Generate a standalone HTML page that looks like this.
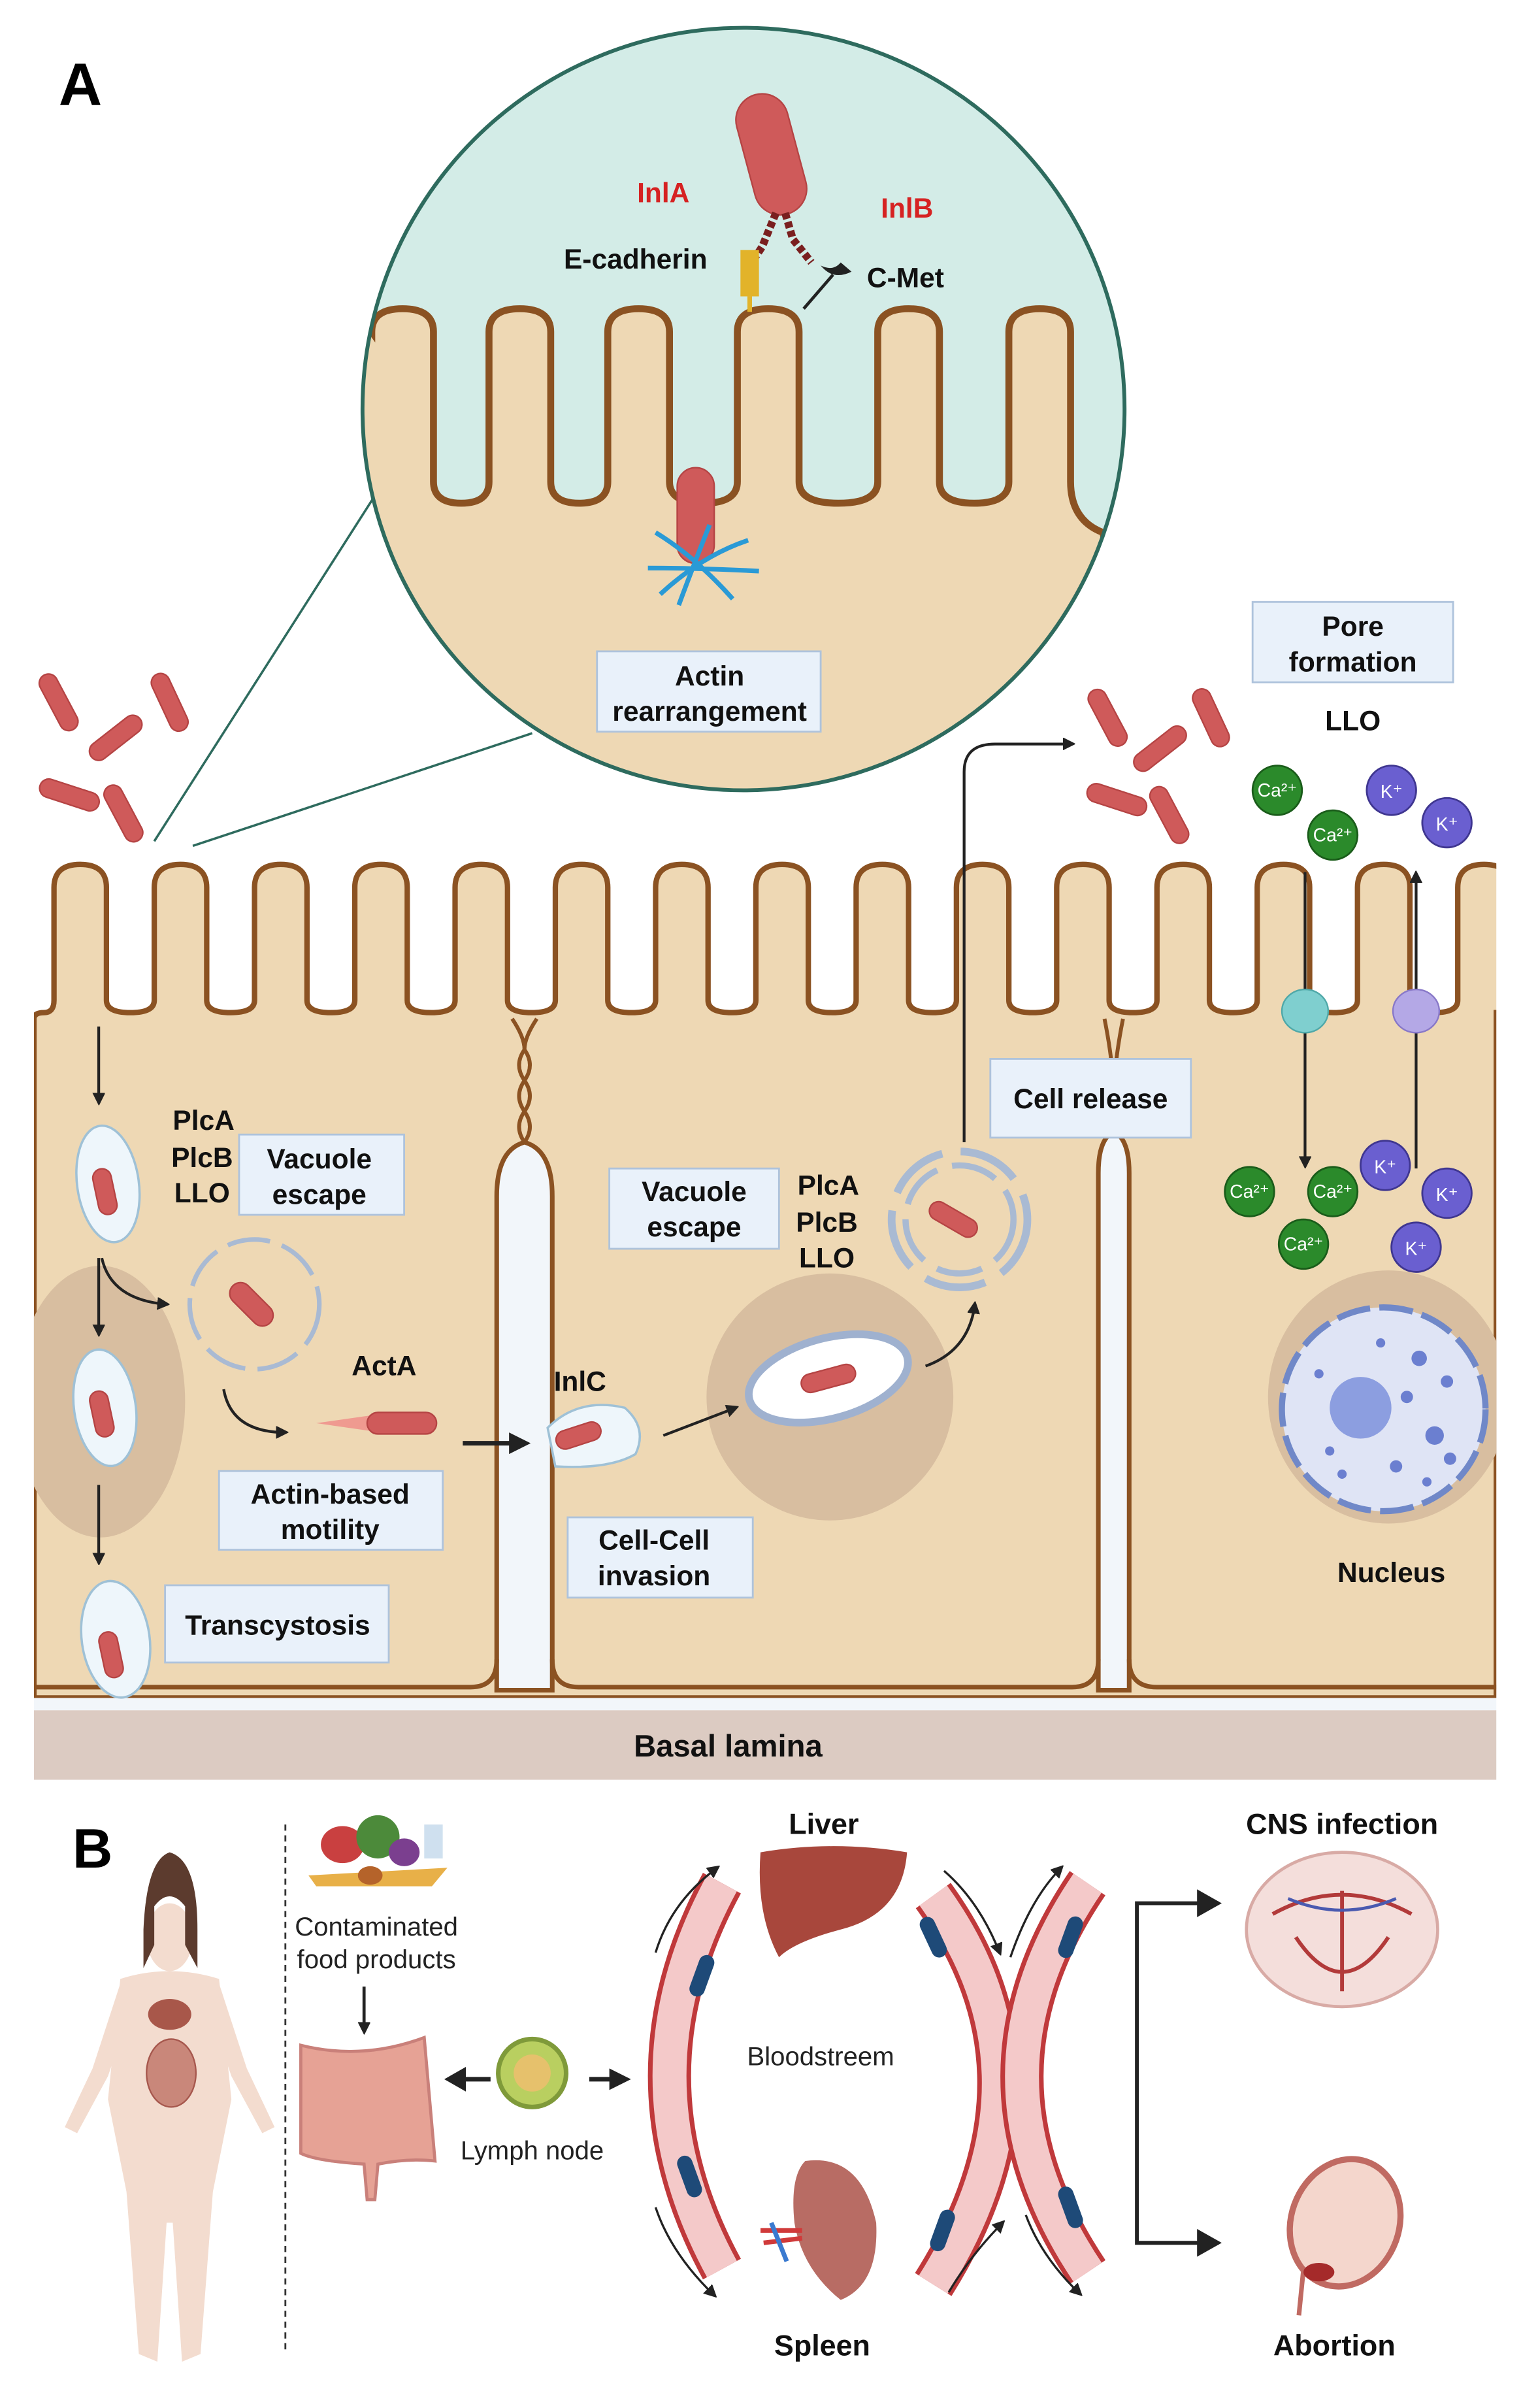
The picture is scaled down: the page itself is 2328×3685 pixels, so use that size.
<!DOCTYPE html>
<html><head><meta charset="utf-8"><style>
html,body{margin:0;padding:0;background:#fff}
svg{display:block}
text{font-family:"Liberation Sans",Arial,sans-serif}
.b{font-weight:bold;font-size:18px;fill:#111}
.lbl{fill:#e9f1fa;stroke:#aec3dc;stroke-width:1.2}
.rod{fill:#cf5a5a;stroke:#b54444;stroke-width:1}
</style></head><body>
<svg width="2328" height="3685" viewBox="0 0 986 1560" preserveAspectRatio="none" xmlns="http://www.w3.org/2000/svg">
<defs>
<marker id="ah" markerWidth="8" markerHeight="8" refX="6" refY="4" orient="auto" markerUnits="userSpaceOnUse"><path d="M0,0 L8,4 L0,8 Z" fill="#222" transform="scale(1.3) translate(-1.5,-1)"/></marker>
<marker id="ahb" markerWidth="14" markerHeight="14" refX="10" refY="7" orient="auto" markerUnits="userSpaceOnUse"><path d="M0,0 L14,7 L0,14 Z" fill="#222"/></marker>
<clipPath id="cc"><circle cx="482" cy="265" r="247"/></clipPath>
<clipPath id="cellclip"><rect x="22" y="540" width="948" height="560"/></clipPath>
</defs>
<rect width="986" height="1560" fill="#fff"/>
<text x="38" y="68" style="font-weight:bold;font-size:39px">A</text>

<line x1="100" y1="545" x2="245" y2="318" stroke="#2e6b5e" stroke-width="1.5"/>
<line x1="125" y1="548" x2="345" y2="475" stroke="#2e6b5e" stroke-width="1.5"/>

<g clip-path="url(#cc)">
<rect x="230" y="15" width="510" height="510" fill="#d3ece7"/>
<path id="czv" fill="#eed8b4" stroke="#8b5222" stroke-width="4.5" d=""/>
</g>
<circle cx="482" cy="265" r="247" fill="none" stroke="#2e6b5e" stroke-width="2.5"/>

<rect x="22" y="1090" width="948" height="18" fill="#f2f6fa"/>
<g clip-path="url(#cellclip)">
<path id="mv" fill="#eed8b4" stroke="#8b5222" stroke-width="3.5" d=""/>
<ellipse cx="65" cy="908" rx="55" ry="88" fill="#d8bea0"/>
<ellipse cx="538" cy="905" rx="80" ry="80" fill="#d8bea0"/>
<ellipse cx="900" cy="905" rx="78" ry="82" fill="#d8bea0"/>
<path d="M322,1095 L322,775 Q322,745 340,740 Q358,745 358,775 L358,1095 Z" fill="#f2f6fa" stroke="#8b5222" stroke-width="3"/>
<path d="M712,1095 L712,760 Q712,738 722,733 Q732,738 732,760 L732,1095 Z" fill="#f2f6fa" stroke="#8b5222" stroke-width="3"/>
<path d="M22,1093 L305,1093 Q322,1093 322,1075 M358,1075 Q358,1093 375,1093 L695,1093 Q712,1093 712,1075 M732,1075 Q732,1093 750,1093 L970,1093" fill="none" stroke="#8b5222" stroke-width="3"/>
<path d="M332,660 Q340,672 340,680 Q333,690 340,700 Q347,710 340,720 Q333,730 340,740 M348,660 Q340,672 340,680 Q347,690 340,700 Q333,710 340,720 Q347,730 340,740" fill="none" stroke="#8b5222" stroke-width="2.5"/>
<path d="M716,660 Q722,690 722,712 M728,660 Q722,690 722,712" fill="none" stroke="#8b5222" stroke-width="2.5"/>
</g>
<rect x="22" y="1108" width="948" height="45" fill="#dccbc2"/>
<text x="472" y="1138" text-anchor="middle" class="b" style="font-size:20px">Basal lamina</text>

<g>
<rect class="rod" x="-20" y="-6" width="40" height="12" rx="6" transform="translate(38,455) rotate(62)"/>
<rect class="rod" x="-20" y="-6" width="40" height="12" rx="6" transform="translate(75,478) rotate(-38)"/>
<rect class="rod" x="-20" y="-6" width="40" height="12" rx="6" transform="translate(110,455) rotate(65)"/>
<rect class="rod" x="-20" y="-6" width="40" height="12" rx="6" transform="translate(45,515) rotate(18)"/>
<rect class="rod" x="-20" y="-6" width="40" height="12" rx="6" transform="translate(80,527) rotate(62)"/>
<rect class="rod" x="-20" y="-6" width="40" height="12" rx="6" transform="translate(718,465) rotate(62)"/>
<rect class="rod" x="-20" y="-6" width="40" height="12" rx="6" transform="translate(752,485) rotate(-38)"/>
<rect class="rod" x="-20" y="-6" width="40" height="12" rx="6" transform="translate(785,465) rotate(65)"/>
<rect class="rod" x="-20" y="-6" width="40" height="12" rx="6" transform="translate(724,518) rotate(18)"/>
<rect class="rod" x="-20" y="-6" width="40" height="12" rx="6" transform="translate(758,528) rotate(62)"/>
</g>

<rect class="rod" x="-17" y="-40" width="34" height="80" rx="17" transform="translate(500,100) rotate(-15)"/>
<path d="M503,138 L494,160 L486,172 M509,138 L514,155 L526,170" fill="none" stroke="#7a1f1f" stroke-width="5" stroke-dasharray="4,2"/>
<rect x="480" y="162" width="12" height="30" fill="#e2b32a"/>
<line x1="486" y1="192" x2="486" y2="202" stroke="#e2b32a" stroke-width="3"/>
<path d="M521,200 L540,178" stroke="#222" stroke-width="2"/>
<path d="M532,172 Q540,182 552,176 L545,170 Q540,176 532,172 Z" fill="#222"/>
<text x="430" y="131" text-anchor="middle" class="b" style="fill:#d62222">InlA</text>
<text x="588" y="141" text-anchor="middle" class="b" style="fill:#d62222">InlB</text>
<text x="412" y="174" text-anchor="middle" class="b">E-cadherin</text>
<text x="587" y="186" text-anchor="middle" class="b">C-Met</text>
<rect class="rod" x="-12" y="-30" width="24" height="62" rx="12" transform="translate(451,333)"/>
<g stroke="#2a9ad6" stroke-width="3" fill="none">
<path d="M425,345 Q450,360 475,388"/><path d="M428,385 Q455,360 485,350"/><path d="M420,368 Q455,368 492,370"/><path d="M440,392 Q450,365 460,340"/>
</g>
<rect class="lbl" x="387" y="422" width="145" height="52"/>
<text x="460" y="444" text-anchor="middle" class="b">Actin</text>
<text x="460" y="467" text-anchor="middle" class="b">rearrangement</text>

<g stroke="#222" stroke-width="1.8" fill="none">
<line x1="64" y1="665" x2="64" y2="714" marker-end="url(#ah)"/>
<line x1="64" y1="815" x2="64" y2="864" marker-end="url(#ah)"/>
<line x1="64" y1="962" x2="64" y2="1012" marker-end="url(#ah)"/>
<path d="M66,815 Q72,842 108,845" marker-end="url(#ah)"/>
<path d="M145,900 Q150,928 185,928" marker-end="url(#ah)"/>
<path d="M430,930 L477,912" marker-end="url(#ah)"/>
<path d="M600,885 Q628,875 632,845" marker-end="url(#ah)"/>
<path d="M625,740 L625,500 Q625,482 645,482 L695,482" marker-end="url(#ah)"/>
<line x1="846" y1="565" x2="846" y2="755" marker-end="url(#ah)"/>
<line x1="918" y1="757" x2="918" y2="566" marker-end="url(#ah)"/>
</g>
<line x1="300" y1="935" x2="340" y2="935" stroke="#222" stroke-width="3" marker-end="url(#ahb)"/>
<g fill="#eef6fb" stroke="#9fc1d6" stroke-width="1.5">
<ellipse cx="70" cy="767" rx="20" ry="38" transform="rotate(-8 70 767)"/>
<ellipse cx="68" cy="912" rx="20" ry="38" transform="rotate(-8 68 912)"/>
<ellipse cx="75" cy="1062" rx="22" ry="38" transform="rotate(-8 75 1062)"/>
<path d="M355,925 Q375,905 405,912 Q420,925 412,942 Q395,952 360,950 Z"/>
</g>
<rect class="rod" x="-6" y="-15" width="12" height="30" rx="6" transform="translate(68,772) rotate(-12)"/>
<rect class="rod" x="-6" y="-15" width="12" height="30" rx="6" transform="translate(66,916) rotate(-12)"/>
<rect class="rod" x="-6" y="-15" width="12" height="30" rx="6" transform="translate(72,1072) rotate(-12)"/>
<rect class="rod" x="-15" y="-6" width="30" height="12" rx="6" transform="translate(375,930) rotate(-18)"/>
<circle cx="165" cy="845" r="42" fill="none" stroke="#a9bad3" stroke-width="3" stroke-dasharray="28,8"/>
<rect class="rod" x="-7" y="-17" width="14" height="34" rx="7" transform="translate(163,845) rotate(-45)"/>
<path d="M205,922 L240,917 L240,927 Z" fill="#f08080" opacity="0.7"/>
<rect class="rod" x="238" y="915" width="45" height="14" rx="7"/>
<text x="132" y="732" text-anchor="middle" class="b">PlcA</text>
<text x="131" y="756" text-anchor="middle" class="b">PlcB</text>
<text x="131" y="779" text-anchor="middle" class="b">LLO</text>
<rect class="lbl" x="155" y="735" width="107" height="52"/>
<text x="207" y="757" text-anchor="middle" class="b">Vacuole</text>
<text x="207" y="780" text-anchor="middle" class="b">escape</text>
<text x="249" y="891" text-anchor="middle" class="b">ActA</text>
<rect class="lbl" x="142" y="953" width="145" height="51"/>
<text x="214" y="974" text-anchor="middle" class="b">Actin-based</text>
<text x="214" y="997" text-anchor="middle" class="b">motility</text>
<rect class="lbl" x="107" y="1027" width="145" height="50"/>
<text x="180" y="1059" text-anchor="middle" class="b">Transcystosis</text>

<text x="376" y="901" text-anchor="middle" class="b">InlC</text>
<rect class="lbl" x="368" y="983" width="120" height="52"/>
<text x="424" y="1004" text-anchor="middle" class="b">Cell-Cell</text>
<text x="424" y="1027" text-anchor="middle" class="b">invasion</text>
<ellipse cx="537" cy="893" rx="53" ry="26" transform="rotate(-15 537 893)" fill="#fff" stroke="#9fb1cf" stroke-width="5"/>
<rect class="rod" x="-18" y="-6" width="36" height="12" rx="6" transform="translate(537,893) rotate(-15)"/>
<rect class="lbl" x="395" y="757" width="110" height="52"/>
<text x="450" y="778" text-anchor="middle" class="b">Vacuole</text>
<text x="450" y="801" text-anchor="middle" class="b">escape</text>
<text x="537" y="774" text-anchor="middle" class="b">PlcA</text>
<text x="536" y="798" text-anchor="middle" class="b">PlcB</text>
<text x="536" y="821" text-anchor="middle" class="b">LLO</text>
<circle cx="622" cy="790" r="35" fill="none" stroke="#a9bad3" stroke-width="4" stroke-dasharray="30,10"/>
<circle cx="622" cy="790" r="44" fill="none" stroke="#a9bad3" stroke-width="5" stroke-dasharray="40,12"/>
<rect class="rod" x="-17" y="-6" width="34" height="12" rx="6" transform="translate(618,790) rotate(30)"/>
<rect class="lbl" x="642" y="686" width="130" height="51"/>
<text x="707" y="718" text-anchor="middle" class="b">Cell release</text>

<rect class="lbl" x="812" y="390" width="130" height="52"/>
<text x="877" y="412" text-anchor="middle" class="b">Pore</text>
<text x="877" y="435" text-anchor="middle" class="b">formation</text>
<text x="877" y="473" text-anchor="middle" class="b">LLO</text>
<ellipse cx="846" cy="655" rx="15" ry="14" fill="#7fcfcf" stroke="#4fa8a8"/>
<ellipse cx="918" cy="655" rx="15" ry="14" fill="#b4a8e6" stroke="#8878c8"/>
<g font-size="12" fill="#fff" text-anchor="middle">
<g fill="#2b8a2b" stroke="#1a5c1a" stroke-width="1.2">
<circle cx="828" cy="512" r="16"/><circle cx="864" cy="541" r="16"/><circle cx="810" cy="772" r="16"/><circle cx="864" cy="772" r="16"/><circle cx="845" cy="806" r="16"/>
</g>
<g fill="#6a5fd0" stroke="#3f3690" stroke-width="1.2">
<circle cx="902" cy="512" r="16"/><circle cx="938" cy="533" r="16"/><circle cx="898" cy="755" r="16"/><circle cx="938" cy="773" r="16"/><circle cx="918" cy="808" r="16"/>
</g>
<text x="828" y="516" fill="#fff">Ca²⁺</text><text x="864" y="545" fill="#fff">Ca²⁺</text><text x="810" y="776" fill="#fff">Ca²⁺</text><text x="864" y="776" fill="#fff">Ca²⁺</text><text x="845" y="810" fill="#fff">Ca²⁺</text>
<text x="902" y="517" fill="#fff">K⁺</text><text x="938" y="538" fill="#fff">K⁺</text><text x="898" y="760" fill="#fff">K⁺</text><text x="938" y="778" fill="#fff">K⁺</text><text x="918" y="813" fill="#fff">K⁺</text>
</g>
<circle cx="897" cy="913" r="66" fill="#dfe4f5" stroke="#7088c8" stroke-width="4" stroke-dasharray="22,6"/>
<circle cx="882" cy="912" r="20" fill="#8c9ee0"/>
<g fill="#6b7fd0">
<circle cx="920" cy="880" r="5"/><circle cx="938" cy="895" r="4"/><circle cx="912" cy="905" r="4"/><circle cx="930" cy="930" r="6"/><circle cx="940" cy="945" r="4"/><circle cx="905" cy="950" r="4"/><circle cx="870" cy="955" r="3"/><circle cx="855" cy="890" r="3"/><circle cx="862" cy="940" r="3"/><circle cx="925" cy="960" r="3"/><circle cx="895" cy="870" r="3"/>
</g>
<text x="902" y="1025" text-anchor="middle" class="b">Nucleus</text>

<text x="47" y="1210" style="font-weight:bold;font-size:36px">B</text>
<g fill="#f3dccf">
<ellipse cx="110" cy="1255" rx="15" ry="22"/>
<path d="M78,1282 Q110,1272 142,1282 L150,1360 L138,1420 L130,1525 L118,1530 L112,1440 L108,1440 L102,1530 L90,1525 L82,1420 L70,1360 Z"/>
<path d="M78,1285 L60,1340 L42,1378 L50,1382 L70,1345 L82,1310 Z"/>
<path d="M142,1285 L160,1340 L178,1378 L170,1382 L150,1345 L138,1310 Z"/>
</g>
<path d="M93,1250 Q95,1205 110,1200 Q128,1205 128,1250 L128,1275 L120,1260 L120,1235 Q110,1222 100,1235 L100,1260 L93,1275 Z" fill="#5c3b2e"/>
<ellipse cx="110" cy="1305" rx="14" ry="10" fill="#a8574a"/>
<ellipse cx="111" cy="1343" rx="16" ry="22" fill="#c9877a" stroke="#a6574d"/>
<line x1="185" y1="1182" x2="185" y2="1525" stroke="#333" stroke-width="1.2" stroke-dasharray="4,3"/>
<g>
<ellipse cx="222" cy="1195" rx="14" ry="12" fill="#c94040"/>
<ellipse cx="245" cy="1190" rx="14" ry="14" fill="#4c8a3a"/>
<ellipse cx="262" cy="1200" rx="10" ry="9" fill="#7b3f8f"/>
<rect x="275" y="1182" width="12" height="22" fill="#cfe0ef"/>
<path d="M200,1215 L290,1210 L280,1222 L205,1222Z" fill="#e8b048"/>
<ellipse cx="240" cy="1215" rx="8" ry="6" fill="#b5632a"/>
</g>
<text x="244" y="1254" text-anchor="middle" font-size="17" fill="#222">Contaminated</text>
<text x="244" y="1275" text-anchor="middle" font-size="17" fill="#222">food products</text>
<line x1="236" y1="1287" x2="236" y2="1316" stroke="#222" stroke-width="2" marker-end="url(#ah)"/>
<path d="M195,1325 Q235,1335 275,1320 L282,1400 Q265,1398 245,1402 L243,1425 L238,1425 L236,1402 Q205,1400 195,1395 Z" fill="#e6a295" stroke="#c9807a" stroke-width="2"/>
<circle cx="345" cy="1343" r="22" fill="#b9cf60" stroke="#7f9a3a" stroke-width="3"/>
<circle cx="345" cy="1343" r="12" fill="#e6c16c"/>
<text x="345" y="1399" text-anchor="middle" font-size="17" fill="#222">Lymph node</text>
<path d="M318,1347 L298,1347" stroke="#222" stroke-width="3"/>
<path d="M288,1347 L302,1339 L302,1355 Z" fill="#222"/>
<line x1="382" y1="1347" x2="405" y2="1347" stroke="#222" stroke-width="3" marker-end="url(#ahb)"/>
<g fill="none">
<path d="M468,1220 Q400,1345 468,1470" stroke="#c0393b" stroke-width="28"/>
<path d="M468,1220 Q400,1345 468,1470" stroke="#f4c9c9" stroke-width="22"/>
<path d="M605,1228 Q690,1345 605,1480" stroke="#c0393b" stroke-width="28"/>
<path d="M605,1228 Q690,1345 605,1480" stroke="#f4c9c9" stroke-width="22"/>
<path d="M705,1220 Q620,1345 705,1472" stroke="#c0393b" stroke-width="28"/>
<path d="M705,1220 Q620,1345 705,1472" stroke="#f4c9c9" stroke-width="22"/>
</g>
<g fill="#1e4a78">
<rect x="-5" y="-14" width="10" height="28" rx="5" transform="translate(455,1280) rotate(20)"/>
<rect x="-5" y="-14" width="10" height="28" rx="5" transform="translate(447,1410) rotate(-20)"/>
<rect x="-5" y="-14" width="10" height="28" rx="5" transform="translate(605,1255) rotate(-25)"/>
<rect x="-5" y="-14" width="10" height="28" rx="5" transform="translate(694,1255) rotate(20)"/>
<rect x="-5" y="-14" width="10" height="28" rx="5" transform="translate(611,1445) rotate(20)"/>
<rect x="-5" y="-14" width="10" height="28" rx="5" transform="translate(694,1430) rotate(-20)"/>
</g>
<g stroke="#222" stroke-width="1.4" fill="none">
<path d="M425,1265 Q435,1232 465,1210" marker-end="url(#ah)"/>
<path d="M425,1430 Q435,1460 463,1487" marker-end="url(#ah)"/>
<path d="M612,1212 Q635,1232 648,1265" marker-end="url(#ah)"/>
<path d="M655,1268 Q668,1230 688,1210" marker-end="url(#ah)"/>
<path d="M615,1485 Q630,1460 650,1440" marker-end="url(#ah)"/>
<path d="M665,1435 Q675,1462 700,1486" marker-end="url(#ah)"/>
</g>
<path d="M493,1200 Q540,1192 588,1200 Q585,1240 545,1250 Q515,1258 505,1268 Q490,1240 493,1200 Z" fill="#a8473c"/>
<path d="M522,1400 Q558,1395 568,1440 Q570,1480 545,1490 Q520,1470 515,1440 Q512,1410 522,1400 Z" fill="#b86c64"/>
<path d="M493,1445 L520,1445 M495,1453 L520,1450" stroke="#d03a3a" stroke-width="3"/>
<path d="M500,1440 L510,1465" stroke="#3a7ad0" stroke-width="3"/>
<text x="534" y="1188" text-anchor="middle" class="b" style="font-size:19px">Liver</text>
<text x="532" y="1338" text-anchor="middle" font-size="17" fill="#222">Bloodstreem</text>
<text x="533" y="1526" text-anchor="middle" class="b" style="font-size:19px">Spleen</text>
<path d="M790,1233 L737,1233 L737,1453 L790,1453" fill="none" stroke="#222" stroke-width="2.5"/>
<path d="M792,1233 L776,1224 L776,1242 Z M792,1453 L776,1444 L776,1462 Z" fill="#222"/>
<text x="870" y="1188" text-anchor="middle" class="b" style="font-size:19px">CNS infection</text>
<ellipse cx="870" cy="1250" rx="62" ry="50" fill="#f4dedb" stroke="#d8aaa5" stroke-width="2"/>
<path d="M825,1240 Q870,1215 915,1240 M870,1225 L870,1290 M840,1255 Q870,1300 900,1255" fill="none" stroke="#b23a3a" stroke-width="2.5"/>
<path d="M835,1230 Q870,1245 905,1230" fill="none" stroke="#4a5ab0" stroke-width="2"/>
<text x="865" y="1526" text-anchor="middle" class="b" style="font-size:19px">Abortion</text>
<ellipse cx="872" cy="1440" rx="35" ry="42" transform="rotate(20 872 1440)" fill="#f4d6cc" stroke="#c06a62" stroke-width="4"/>
<path d="M845,1470 L842,1500" stroke="#c06a62" stroke-width="3"/>
<ellipse cx="855" cy="1472" rx="10" ry="6" fill="#a52a2a"/>
</svg>
<script>
(function(){
var top=560,base=648,w=34;
var centers=[];for(var i=0;i<15;i++)centers.push(52+65*i);
var x=22;
var d="M22,1100 L22,660 ";
for(var i=0;i<centers.length;i++){
 var c=centers[i],l=c-w/2,r=c+w/2;
 var mid=(x+l)/2;
 d+="Q"+x+","+(base+8)+" "+mid+","+(base+8)+" Q"+l+","+(base+8)+" "+l+","+base+" ";
 d+="L"+l+","+(top+15)+" Q"+l+","+top+" "+c+","+top+" Q"+r+","+top+" "+r+","+(top+15)+" L"+r+","+base+" ";
 x=r;
}
d+="Q"+x+","+(base+8)+" 970,"+(base+8)+" L970,1100 Z";
document.getElementById("mv").setAttribute("d",d);
var cs=[261,337,414,498,589,674],cw=40,ct=200,cb=312;
x=279;
var e="M230,600 L230,"+ct+" ";
for(var i=0;i<cs.length;i++){
 var c=cs[i],l=c-cw/2,r=c+cw/2;
 if(i>0){var mid=(x+l)/2;e+="Q"+x+","+(cb+14)+" "+mid+","+(cb+14)+" Q"+l+","+(cb+14)+" "+l+","+cb+" ";}
 else{e+="L"+l+","+(ct+15)+" ";}
 e+="L"+l+","+(ct+15)+" Q"+l+","+ct+" "+c+","+ct+" Q"+r+","+ct+" "+r+","+(ct+15)+" L"+r+","+cb+" ";
 x=r;
}
e+="Q"+x+","+(cb+25)+" 715,345 L760,600 Z";
document.getElementById("czv").setAttribute("d",e);
})();
</script>
</body></html>
